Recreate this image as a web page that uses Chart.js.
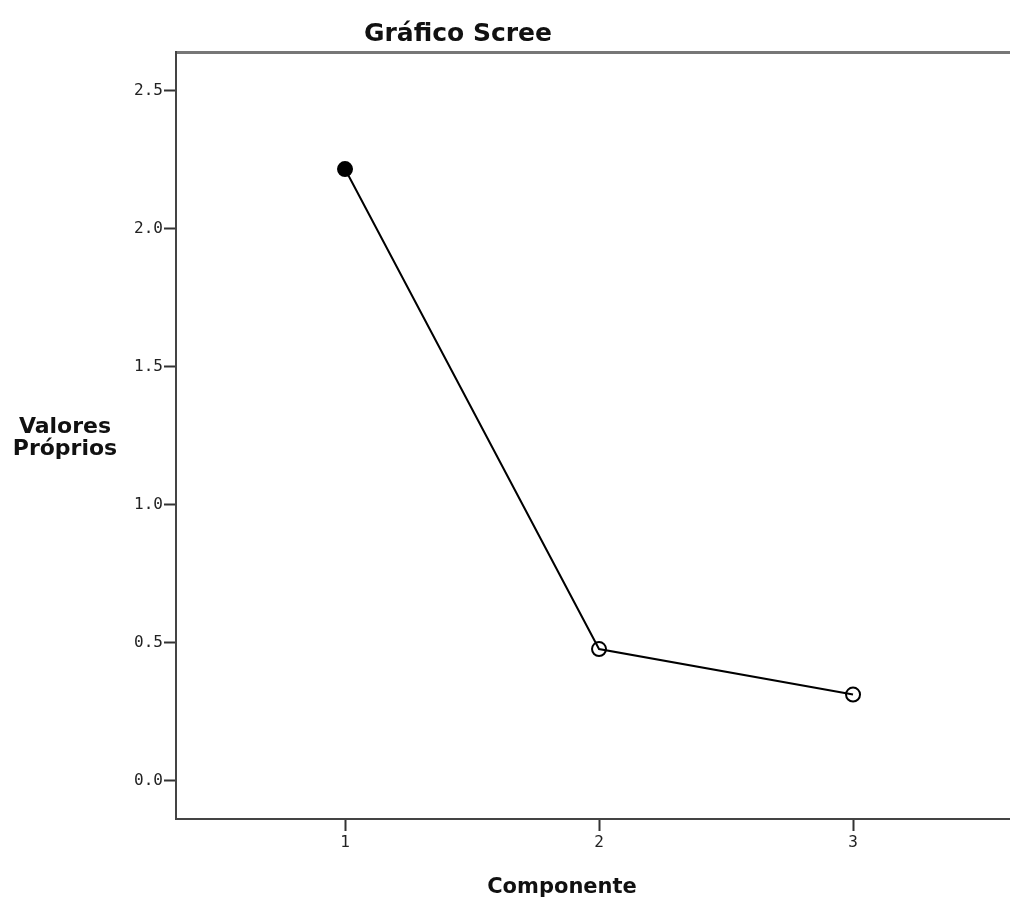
<!DOCTYPE html>
<html>
<head>
<meta charset="utf-8">
<script src="https://cdn.jsdelivr.net/npm/chart.js@4"></script>
<style>
html, body { margin: 0; padding: 0; background: #fff; overflow: hidden; }
#wrap { position: relative; width: 1010px; height: 901px; overflow: hidden; }
#wrap canvas { position: absolute; left: 0; top: 0; }
.lbl { position: absolute; font-family: "DejaVu Sans", sans-serif; font-weight: bold; color: #111; white-space: nowrap; transform: translate(-50%, -50%); }
#title { left: 458px; top: 32px; font-size: 25px; }
#ytitle { left: 65px; top: 437px; font-size: 22px; text-align: center; line-height: 22px; }
#xtitle { left: 562px; top: 886px; font-size: 21px; }
</style>
</head>
<body>
<div id="wrap">
  <!-- canvas is a bit wider than the window: the frame runs off the right edge -->
  <canvas id="scree" width="1019" height="901"></canvas>
  <div class="lbl" id="title">Gráfico Scree</div>
  <div class="lbl" id="ytitle">Valores<br>Próprios</div>
  <div class="lbl" id="xtitle">Componente</div>
</div>
<script>
// eigenvalues per component
const componentes = [1, 2, 3];
const valoresProprios = [2.217, 0.478, 0.313];
const yTicks = [0, 0.5, 1.0, 1.5, 2.0, 2.5];
const xTicks = [1, 2, 3];

const axisColor = "#444";
const tickFont = { family: "DejaVu Sans Mono", size: 16 };

new Chart(document.getElementById("scree"), {
    type: "line",
    data: {
        datasets: [{
            data: componentes.map((c, i) => ({ x: c, y: valoresProprios[i] })),
            borderColor: "#000",
            borderWidth: 2,
            pointRadius: 7,
            pointBorderWidth: 2,
            pointBorderColor: "#000",
            pointBackgroundColor: ["#000", "rgba(0,0,0,0)", "rgba(0,0,0,0)"],
            tension: 0
        }]
    },
    options: {
        responsive: false,
        animation: false,
        layout: { padding: 0 },
        plugins: { legend: { display: false }, tooltip: { enabled: false } },
        scales: {
            x: {
                type: "linear",
                min: 0.3346,
                max: 3.618,
                afterBuildTicks: s => { s.ticks = xTicks.map(v => ({ value: v })); },
                afterFit: s => { s.height = 82; },
                ticks: { color: "#222", font: tickFont, padding: 2, callback: v => String(v) },
                grid: { drawOnChartArea: false, tickLength: 12, tickColor: "#333", tickWidth: 2 },
                border: { color: axisColor, width: 2 }
            },
            xTop: {
                type: "linear",
                position: "top",
                min: 0.3346,
                max: 3.618,
                afterFit: s => { s.height = 52; },
                ticks: { display: false },
                grid: { display: false },
                border: { color: "#777", width: 3 }
            },
            y: {
                min: -0.1377,
                max: 2.641,
                afterBuildTicks: s => { s.ticks = yTicks.map(v => ({ value: v })); },
                afterFit: s => { s.width = 176; },
                ticks: { color: "#222", font: tickFont, padding: 1, callback: v => v.toFixed(1) },
                grid: { drawOnChartArea: false, tickLength: 12, tickColor: "#333", tickWidth: 2 },
                border: { color: axisColor, width: 2 }
            }
        }
    }
});
</script>
</body>
</html>
